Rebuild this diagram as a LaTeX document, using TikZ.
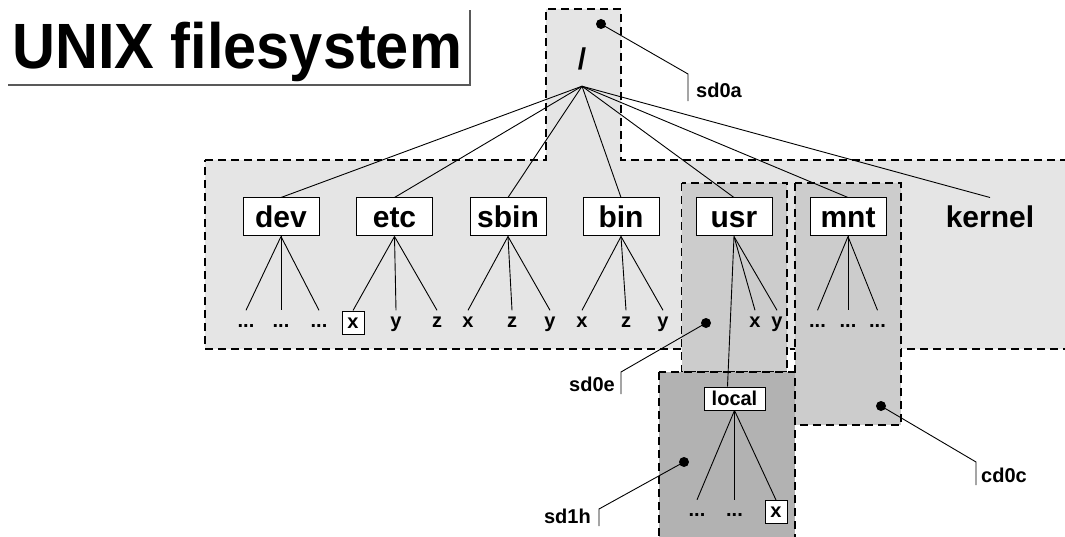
\documentclass[tikz,border=0pt]{standalone}
\usepackage{fontspec}
\setmainfont{Liberation Sans}
\newfontfamily\titlefont[FakeStretch=0.93]{Liberation Sans}
\newcommand{\leafdots}{...}

\tikzset{
  dir/.style={draw, fill=white, line width=1pt, minimum width=76pt, minimum height=38pt,
              inner sep=0pt, text height=21.5pt, text depth=0pt,
              font=\fontsize{30}{36}\selectfont\bfseries},
  leaf/.style={inner sep=5.5pt, text height=11pt, text depth=0pt,
               font=\fontsize{20}{24}\selectfont\bfseries},
  boxleaf/.style={leaf, draw, fill=white, line width=1pt, minimum width=22pt,
                  minimum height=23pt, inner sep=0pt},
  part/.style={draw, dash pattern=on 8pt off 5pt, line width=1.2pt},
  dot/.style={circle, fill=black, inner sep=0pt, minimum size=10pt},
  tag/.style={inner sep=0pt, text depth=3pt, font=\fontsize{20}{24}\selectfont\bfseries},
  link/.style={line width=0.9pt}
}

\begin{document}
\begin{tikzpicture}[x=1pt,y=-1pt]
\useasboundingbox (0,0) rectangle (1065,537);

\filldraw[part, fill=gray!20] (205,160) -- (546,160) -- (546,9) -- (621,9) -- (621,160)
                              -- (1075,160) -- (1075,349) -- (205,349) -- cycle;
\filldraw[part, fill=gray!40] (681.5,183) rectangle (787,372);
\filldraw[part, fill=gray!40] (795,183) rectangle (901,425);
\filldraw[part, fill=gray!60] (659,372) rectangle (795,545);

\node[anchor=base west, inner sep=0pt, font=\fontsize{64}{70}\selectfont\titlefont\bfseries]
     (title) at (12,69) {UNIX filesystem};
\draw[black!65, line width=1.5pt] (8,85) -- (470,85) -- (470,10);

\node[anchor=base, inner xsep=0pt, inner ysep=16pt, text depth=0pt,
      font=\fontsize{30}{36}\selectfont\bfseries] (root) at (582,70) {/};

\foreach \name/\x in {dev/281, etc/394.5, sbin/508, bin/621, usr/734, mnt/848}
  \node[dir] (\name) at (\x,217) {\name};
\node[dir, draw=none, fill=none] (kernel) at (990,217) {kernel};

\foreach \name in {dev, etc, sbin, bin, usr, mnt, kernel}
  \draw[link] (root.south) -- (\name.north);

\foreach \p/\n/\x/\t in {dev/a/246/\leafdots, dev/b/281/\leafdots, dev/c/319/\leafdots,
                         etc/b/396/y, etc/c/437/z,
                         sbin/a/468/x, sbin/b/512/z, sbin/c/550/y,
                         bin/a/582/x, bin/b/626/z, bin/c/663/y,
                         usr/b/755/x, usr/c/777/y,
                         mnt/a/817.5/\leafdots, mnt/b/848/\leafdots, mnt/c/877.5/\leafdots}
{
  \node[leaf] (\p-\n) at (\x,321.5) {\t};
  \draw[link] (\p.south) -- (\p-\n.north);
}
\node[boxleaf] (etc-a) at (353,322.5) {x};
\draw[link] (etc.south) -- (etc-a.north);

\node[dir, minimum width=61pt, minimum height=23pt, text height=14.3pt,
      font=\fontsize{20}{24}\selectfont\bfseries] (local) at (734.5,398.5) {local};
\draw[link] (usr.south) -- ([xshift=-7pt]local.north);
\node[leaf] (local-a) at (697,511) {\leafdots};
\node[leaf] (local-b) at (734.5,511) {\leafdots};
\node[boxleaf] (local-c) at (776,512) {x};
\foreach \n in {a, b, c}
  \draw[link] (local.south) -- (local-\n.north);

\node[dot] (sd0a-dot) at (601,24) {};
\coordinate (sd0a-knee) at (688,74);
\node[tag, anchor=base west] (sd0a) at (696,98) {sd0a};
\draw[link] (sd0a-dot.center) -- (sd0a-knee) -- (sd0a-knee |- sd0a.south);

\node[dot] (sd0e-dot) at (706,323) {};
\coordinate (sd0e-knee) at (621,372);
\node[tag, anchor=base east] (sd0e) at (615,391) {sd0e};
\draw[link] (sd0e-dot.center) -- (sd0e-knee) -- (sd0e-knee |- sd0e.south);

\node[dot] (sd1h-dot) at (684,462) {};
\coordinate (sd1h-knee) at (599,509);
\node[tag, anchor=base east] (sd1h) at (591,523) {sd1h};
\draw[link] (sd1h-dot.center) -- (sd1h-knee) -- (sd1h-knee |- sd1h.south);

\node[dot] (cd0c-dot) at (881,406) {};
\coordinate (cd0c-knee) at (976,462);
\node[tag, anchor=base west] (cd0c) at (981,482) {cd0c};
\draw[link] (cd0c-dot.center) -- (cd0c-knee) -- (cd0c-knee |- cd0c.south);
\end{tikzpicture}
\end{document}
